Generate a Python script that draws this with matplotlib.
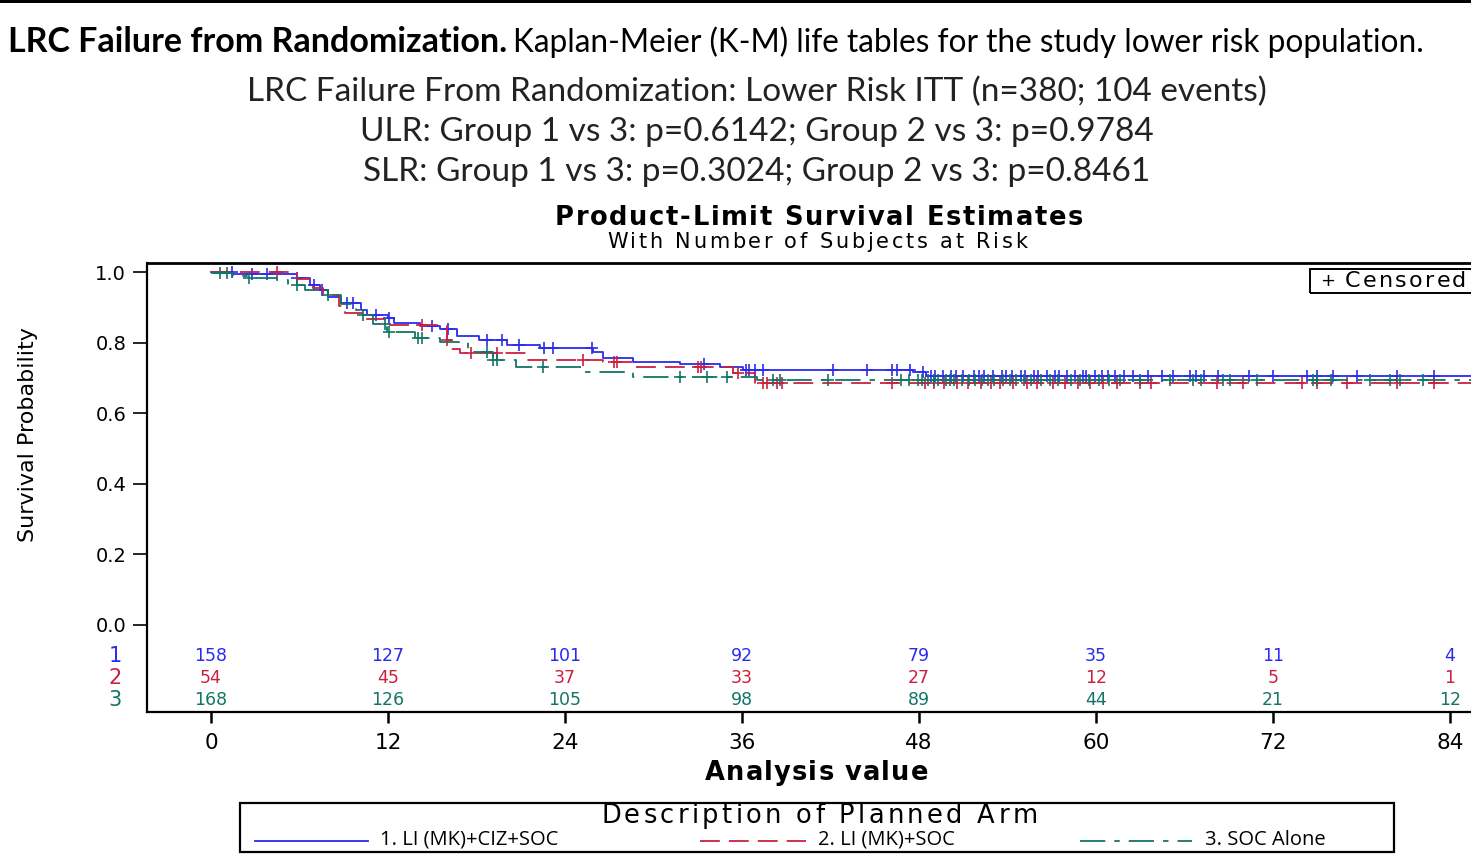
import numpy as np
import matplotlib
matplotlib.use("Agg")
import matplotlib.pyplot as plt
from matplotlib.lines import Line2D

# ---------------- data ----------------
grp1_t = [0, 1.5, 5.8, 6.7, 7.4, 7.9, 8.8, 10.2, 10.6, 12.0, 12.4, 14.2, 15.5, 16.7, 18.2, 20.1, 22.3, 25.9, 26.6, 28.6, 31.8, 34.5, 36.1, 47.6, 48.5]
grp1_s = [1.0, 0.994, 0.983, 0.963, 0.949, 0.929, 0.912, 0.892, 0.878, 0.870, 0.856, 0.847, 0.839, 0.819, 0.807, 0.793, 0.785, 0.773, 0.755, 0.745, 0.739, 0.731, 0.722, 0.717, 0.705]

grp2_t = [0, 5.8, 6.9, 7.6, 8.7, 9.1, 10.5, 12.0, 16.0, 16.3, 16.9, 21.4, 26.6, 28.6, 35.4, 36.9]
grp2_s = [1.0, 0.981, 0.955, 0.935, 0.904, 0.884, 0.867, 0.850, 0.806, 0.782, 0.771, 0.751, 0.745, 0.731, 0.714, 0.686]

grp3_t = [0, 1.5, 2.6, 4.5, 5.2, 6.4, 7.9, 8.8, 9.8, 10.2, 11.0, 11.9, 13.8, 15.5, 17.4, 19.1, 20.7, 25.2, 28.6, 37.0]
grp3_s = [0.997, 0.989, 0.983, 0.977, 0.963, 0.949, 0.935, 0.909, 0.892, 0.878, 0.853, 0.830, 0.813, 0.802, 0.773, 0.751, 0.731, 0.717, 0.703, 0.694]

cens1 = [1.4, 2.8, 3.8, 5.8, 7.0, 7.5, 9.2, 9.6, 11.2, 12.1, 15.0, 16.1, 18.7, 19.7, 20.9, 22.6, 23.2, 25.8, 33.4,
         36.3, 36.5, 36.9, 37.4, 42.2, 44.5, 46.2, 46.5, 47.4, 48.3, 48.8, 49.1, 49.6, 50.2, 50.5, 51.0, 51.7,
         52.1, 52.4, 53.0, 53.6, 53.9, 54.3, 54.9, 55.2, 55.8, 56.1, 56.7, 57.2, 57.5, 58.0, 58.6, 59.1, 59.3,
         59.9, 60.4, 60.8, 61.3, 61.9, 62.5, 63.5, 64.5, 65.2, 66.4, 66.8, 67.3, 68.3, 70.4, 72.0, 74.3, 75.0,
         76.1, 77.7, 80.4, 82.9]
cens2 = [4.5, 14.3, 16.0, 17.6, 19.4, 25.2, 27.3, 27.5, 33.0, 33.2, 35.7, 37.4, 37.7, 38.4, 38.7, 46.2, 48.4,
         49.0, 49.7, 50.6, 51.3, 52.2, 52.9, 53.5, 54.4, 55.3, 56.0, 57.1, 57.9, 58.8, 59.6, 60.5, 61.4, 63.0,
         63.7, 68.2, 70.0, 74.0, 75.0, 77.0, 80.4, 82.9]
cens3 = [0.6, 1.1, 2.6, 5.8, 7.9, 10.3, 11.8, 12.1, 14.0, 14.3, 18.7, 19.1, 19.4, 22.5, 31.8, 33.6, 35.0, 38.1,
         38.6, 41.8, 46.8, 47.3, 47.9, 48.2, 48.6, 49.0, 49.3, 49.8, 50.1, 50.4, 50.9, 51.4, 51.8, 52.3, 52.7,
         53.1, 53.7, 54.2, 54.6, 55.1, 55.6, 56.3, 56.9, 57.4, 58.3, 58.9, 59.5, 60.2, 60.9, 61.6, 63.0, 65.0,
         66.6, 67.1, 68.6, 69.1, 70.9, 74.7, 75.0, 75.9, 78.6, 79.9, 80.6, 82.2]

risk_times = [0, 12, 24, 36, 48, 60, 72, 84]
risk1 = [158, 127, 101, 92, 79, 35, 11, 4]
risk2 = [54, 45, 37, 33, 27, 12, 5, 1]
risk3 = [168, 126, 105, 98, 89, 44, 21, 12]

arm_labels = ["1. LI (MK)+CIZ+SOC", "2. LI (MK)+SOC", "3. SOC Alone"]
y_ticks = [0.0, 0.2, 0.4, 0.6, 0.8, 1.0]

# ---------------- style ----------------
C_BLUE = "#2b2bf0"
C_RED = "#cc2040"
C_GREEN = "#137566"
SAS = ["DejaVu Sans"]
TOPF = ["Lato", "DejaVu Sans"]

W, H = 1471, 867
fig = plt.figure(figsize=(W / 100, H / 100), dpi=100)
renderer = fig.canvas.get_renderer()


def fx(px):
    return px / W


def fy(py):
    return 1 - py / H


def text_width(s, **kw):
    t = fig.text(0, 0, s, **kw)
    w = t.get_window_extent(renderer).width
    t.remove()
    return w


def tracked(x_left_px, x_right_px, y_px, s, **kw):
    """Draw text s spread between x_left_px and x_right_px (letter spacing)."""
    bar = text_width("|", **kw)
    pref = [text_width(s[:i] + "|", **kw) - bar if i > 0 else 0.0 for i in range(len(s) + 1)]
    natural = pref[-1]
    extra = ((x_right_px - x_left_px) - natural) / max(len(s) - 1, 1)
    for i, ch in enumerate(s):
        if ch == " ":
            continue
        fig.text(fx(x_left_px + pref[i] + i * extra), fy(y_px), ch, ha="left", va="center", **kw)


# top black bar
fig.add_artist(plt.Rectangle((0, fy(3)), 1, 3 / H, transform=fig.transFigure, color="black", lw=0))

# heading
t1 = fig.text(fx(8), fy(42), "LRC Failure from Randomization.", fontsize=24.5, fontweight="bold",
              family=TOPF, va="center", ha="left")
bb = t1.get_window_extent(renderer)
fig.text(bb.x1 / W + 0.004, fy(42), "Kaplan-Meier (K-M) life tables for the study lower risk population.",
         fontsize=22.7, family=TOPF, va="center", ha="left")

sub = ["LRC Failure From Randomization: Lower Risk ITT (n=380; 104 events)",
       "ULR: Group 1 vs 3: p=0.6142; Group 2 vs 3: p=0.9784",
       "SLR: Group 1 vs 3: p=0.3024; Group 2 vs 3: p=0.8461"]
for i, s in enumerate(sub):
    fig.text(fx(757), fy(92 + 40 * i), s, fontsize=24, family=TOPF, ha="center", va="center", color="#222222")

tracked(555, 1083, 218, "Product-Limit Survival Estimates", fontsize=18.5, fontweight="bold", family=SAS)
tracked(607, 1027, 242, "With Number of Subjects at Risk", fontsize=15, family=SAS)

# axes
x0_px, px_per = 211, 14.75
xmin = (147 - x0_px) / px_per
xmax = 88.0
right_px = x0_px + xmax * px_per
ax = fig.add_axes([fx(147), fy(712), (right_px - 147) / W, (712 - 263) / H])
ax.set_xlim(xmin, xmax)
y_top = 1 + (272 - 263) / 353
y_bot = -(712 - 625) / 353
ax.set_ylim(y_bot, y_top)


def extend(t, s):
    return list(t) + [xmax], list(s) + [s[-1]]


def surv_at(t, s, c):
    idx = np.searchsorted(np.array(t), np.array(c), side="right") - 1
    return np.array(s)[idx]


specs = [
    (grp1_t, grp1_s, cens1, C_BLUE, "-", None),
    (grp2_t, grp2_s, cens2, C_RED, "--", (11, 5)),
    (grp3_t, grp3_s, cens3, C_GREEN, "-.", (14, 5, 3, 5)),
]
for t, s, c, col, ls, dsh in specs:
    tt, ss = extend(t, s)
    ln, = ax.step(tt, ss, where="post", color=col, lw=1.3, ls=ls)
    if dsh is not None:
        ln.set_dashes(dsh)
    ax.plot(c, surv_at(t, s, c), ls="none", marker="+", color=col, ms=8, mew=1.2)

# spines & ticks
for sp in ax.spines.values():
    sp.set_linewidth(1.6)
    sp.set_color("black")
ax.spines["top"].set_linewidth(2.0)
ax.set_yticks(y_ticks)
ax.set_yticklabels([f"{v:.1f}" for v in y_ticks], family=SAS, fontsize=14)
ax.set_xticks(risk_times)
ax.set_xticklabels([str(v) for v in risk_times], family=SAS, fontsize=15.5)
ax.tick_params(axis="y", direction="out", length=10, width=1.2, pad=5)
ax.tick_params(axis="x", direction="out", length=8, width=1.8, pad=7)
ax.set_ylabel("")
ax.set_xlabel("")
fig.text(fx(28), fy(435), "Survival Probability", family=SAS, fontsize=16, rotation=90,
         ha="center", va="center")
tracked(705, 928, 773, "Analysis value", fontsize=18.5, fontweight="bold", family=SAS)

# at-risk table
row_y = [(625 - 656) / 353, (625 - 678) / 353, (625 - 700) / 353]
for r, (vals, col) in enumerate(zip([risk1, risk2, risk3], [C_BLUE, C_RED, C_GREEN])):
    for tx, v in zip(risk_times, vals):
        ax.text(tx, row_y[r], str(v), color=col, fontsize=12.5, family=SAS, ha="center", va="center")
    ax.text((115 - x0_px) / px_per, row_y[r], str(r + 1), color=col, fontsize=15, family=SAS,
            ha="center", va="center", clip_on=False)

# censored box
fig.add_artist(plt.Rectangle((fx(1310), fy(293)), (1480 - 1310) / W, (293 - 269) / H,
                             transform=fig.transFigure, fill=False, ec="black", lw=1.4))
fig.text(fx(1320), fy(281), "+", family=SAS, fontsize=13, ha="left", va="center")
tracked(1345, 1466, 281, "Censored", fontsize=16, family=SAS)

# legend box
fig.add_artist(plt.Rectangle((fx(240), fy(852)), (1394 - 240) / W, (852 - 803) / H,
                             transform=fig.transFigure, fill=False, ec="black", lw=1.6))
tracked(601, 1037, 816, "Description of Planned Arm", fontsize=18.5, family=SAS)
leg_lines = [(255, 368, 380), (700, 806, 818), (1080, 1192, 1205)]
for (a, b, tx), (t, s, c, col, ls, dsh), lab in zip(leg_lines, specs, arm_labels):
    l = Line2D([fx(a), fx(b)], [fy(841), fy(841)], transform=fig.transFigure, color=col, lw=1.3, ls=ls)
    if dsh is not None:
        l.set_dashes(dsh)
    fig.add_artist(l)
    fig.text(fx(tx), fy(840), lab, family=["Open Sans", "DejaVu Sans"], fontsize=14.5,
             ha="left", va="center")

fig.savefig("out.png", dpi=100)
